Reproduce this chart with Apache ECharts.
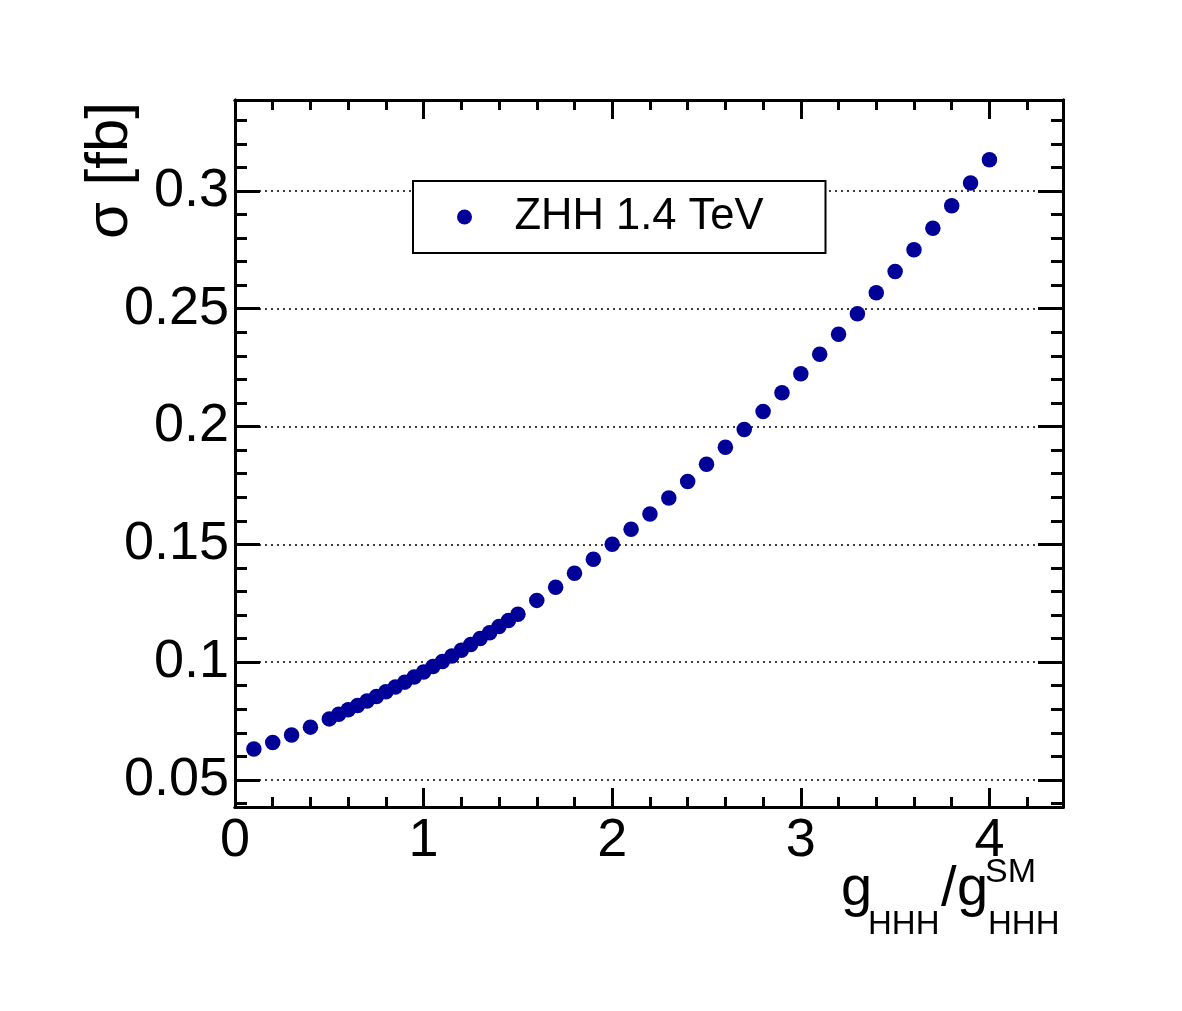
<!DOCTYPE html>
<html>
<head>
<meta charset="utf-8">
<script src="https://cdn.jsdelivr.net/npm/echarts@6/dist/echarts.min.js"></script>
<style>
  html, body { margin: 0; background: #fff; }
  #main { width: 1182px; height: 1011px; }
</style>
</head>
<body>
<div id="main"></div>
<script>
// g_HHH / g_HHH^SM
var gRatio = [0.1, 0.2, 0.3, 0.4, 0.5,
  0.55, 0.6, 0.65, 0.7, 0.75, 0.8, 0.85, 0.9, 0.95, 1.0,
  1.05, 1.1, 1.15, 1.2, 1.25, 1.3, 1.35, 1.4, 1.45, 1.5,
  1.6, 1.7, 1.8, 1.9, 2.0, 2.1, 2.2, 2.3, 2.4, 2.5,
  2.6, 2.7, 2.8, 2.9, 3.0, 3.1, 3.2, 3.3, 3.4, 3.5,
  3.6, 3.7, 3.8, 3.9, 4.0]
// sigma [fb]
var sigma = [0.0631, 0.0659, 0.0691, 0.0724, 0.0759,
  0.0779, 0.0798, 0.0816, 0.0835, 0.0854, 0.0874, 0.0894, 0.0915, 0.0937, 0.0958,
  0.0981, 0.1003, 0.1026, 0.1050, 0.1075, 0.1100, 0.1125, 0.1151, 0.1177, 0.1203,
  0.1262, 0.1318, 0.1377, 0.1437, 0.1500, 0.1564, 0.1629, 0.1697, 0.1767, 0.1840,
  0.1912, 0.1987, 0.2064, 0.2143, 0.2224, 0.2307, 0.2392, 0.2479, 0.2568, 0.2658,
  0.2750, 0.2842, 0.2937, 0.3034, 0.3132]

var xMajor = [0, 1, 2, 3, 4]
var xMinor = [0.2, 0.4, 0.6, 0.8, 1.2, 1.4, 1.6, 1.8, 2.2, 2.4, 2.6, 2.8,
  3.2, 3.4, 3.6, 3.8, 4.2]
var yMajor = [0.05, 0.1, 0.15, 0.2, 0.25, 0.3]
var yMinor = [0.04, 0.06, 0.07, 0.08, 0.09, 0.11, 0.12, 0.13, 0.14,
  0.16, 0.17, 0.18, 0.19, 0.21, 0.22, 0.23, 0.24, 0.26, 0.27, 0.28, 0.29,
  0.31, 0.32, 0.33]

var seriesName = 'ZHH 1.4 TeV'
var X_MIN = 0, X_MAX = 4.39
var Y_MIN = 0.0385, Y_MAX = 0.3386
var FONT = '"Liberation Sans", Arial, Helvetica, sans-serif'

function xAxis(pos, ticks, len, withLabels) {
  return {
    type: 'value', position: pos, min: X_MIN, max: X_MAX,
    axisLine: { show: true, onZero: false, lineStyle: { color: '#000', width: 3 } },
    axisTick: { show: true, inside: true, length: len, customValues: ticks,
      lineStyle: { color: '#000', width: 3 } },
    axisLabel: withLabels ? {
      show: true, customValues: ticks, margin: 7,
      fontSize: 54, fontFamily: FONT, color: '#000'
    } : { show: false },
    splitLine: { show: false }
  }
}

function yAxis(pos, ticks, len, withLabels) {
  return {
    type: 'value', position: pos, min: Y_MIN, max: Y_MAX,
    axisLine: { show: true, onZero: false, lineStyle: { color: '#000', width: 3 } },
    axisTick: { show: true, inside: true, length: len, customValues: ticks,
      lineStyle: { color: '#000', width: 3 } },
    axisLabel: withLabels ? {
      show: true, customValues: ticks, margin: 6,
      fontSize: 54, fontFamily: FONT, color: '#000'
    } : { show: false },
    splitLine: withLabels ? {
      show: true, lineStyle: { color: '#000', width: 1.5, type: [2, 4] }
    } : { show: false }
  }
}

var chart = echarts.init(document.getElementById('main'))
chart.setOption({
  backgroundColor: '#fff',
  animation: false,
  grid: { left: 235, top: 100, right: 119, bottom: 204, containLabel: false },
  legend: {
    data: [seriesName],
    left: 413, top: 181,
    icon: 'circle',
    itemWidth: 90, itemHeight: 15,
    padding: [14, 62, 14, 44],
    borderColor: '#000', borderWidth: 2, backgroundColor: '#fff',
    textStyle: { fontSize: 43.5, fontFamily: FONT, color: '#000', lineHeight: 42 }
  },
  xAxis: [
    xAxis('bottom', xMajor, 19, true),
    xAxis('bottom', xMinor, 10, false),
    xAxis('top', xMajor, 19, false),
    xAxis('top', xMinor, 10, false)
  ],
  yAxis: [
    yAxis('left', yMajor, 25, true),
    yAxis('left', yMinor, 12, false),
    yAxis('right', yMajor, 25, false),
    yAxis('right', yMinor, 12, false)
  ],
  series: [{
    name: seriesName,
    type: 'scatter',
    xAxisIndex: 0, yAxisIndex: 0,
    symbol: 'circle', symbolSize: 15.5,
    itemStyle: { color: '#000099', opacity: 1 },
    data: gRatio.map(function (g, i) { return [g, sigma[i]] })
  }],
  graphic: [
    { type: 'text', x: 110, y: 102, rotation: Math.PI / 2,
      style: { text: 'σ [fb]', fontSize: 60, fontFamily: FONT, fill: '#000',
        align: 'right', verticalAlign: 'middle' } },
    { type: 'text', x: 841, y: 890,
      style: { text: 'g', fontSize: 56, fontFamily: FONT, fill: '#000', align: 'left', verticalAlign: 'middle' } },
    { type: 'text', x: 868, y: 925,
      style: { text: 'HHH', fontSize: 33, fontFamily: FONT, fill: '#000', align: 'left', verticalAlign: 'middle' } },
    { type: 'text', x: 941, y: 890,
      style: { text: '/', fontSize: 56, fontFamily: FONT, fill: '#000', align: 'left', verticalAlign: 'middle' } },
    { type: 'text', x: 957, y: 890,
      style: { text: 'g', fontSize: 56, fontFamily: FONT, fill: '#000', align: 'left', verticalAlign: 'middle' } },
    { type: 'text', x: 985, y: 873,
      style: { text: 'SM', fontSize: 34, fontFamily: FONT, fill: '#000', align: 'left', verticalAlign: 'middle' } },
    { type: 'text', x: 988, y: 925,
      style: { text: 'HHH', fontSize: 33, fontFamily: FONT, fill: '#000', align: 'left', verticalAlign: 'middle' } }
  ]
})
</script>
</body>
</html>
